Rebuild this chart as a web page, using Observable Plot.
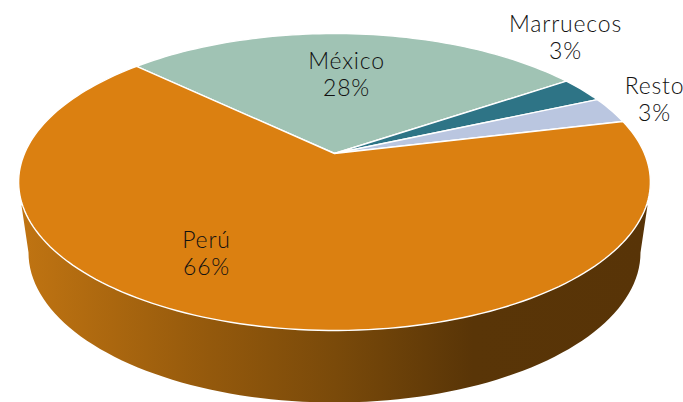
<!DOCTYPE html>
<html>
<head>
<meta charset="utf-8">
<script src="https://cdn.jsdelivr.net/npm/d3@7"></script>
<script src="https://cdn.jsdelivr.net/npm/@observablehq/plot@0.6"></script>
<style>html,body{margin:0;padding:0;background:#fff}svg{display:block}</style>
</head>
<body>
<div id="chart"></div>
<script>
// Data
const categories = ["México", "Marruecos", "Resto", "Perú"];
const shares = [28.4, 2.8, 2.9, 65.9];
const percentLabels = ["28%", "3%", "3%", "66%"];
const sliceColors = ["#A0C3B4", "#2E7486", "#BAC6E0", "#DB8011"];
const labelX = [346, 565, 654, 206];
const labelY = [73, 36, 98, 252];

// View of the tilted disc
const firstSliceStart = -46.3;
const centerX = 334, topY = 153, tilt = 0.192, radiusX = 310, radiusY = 143;
const lowerEllipse = {cx: 334, cy: 252, rx: 306, ry: 150};

const project = (deg) => {
  const t = deg * Math.PI / 180, u = Math.sin(t), v = -Math.cos(t), w = 1 - tilt * v;
  return {x: centerX + radiusX * u / w, y: topY + radiusY * v / w};
};

// Slices built from shares
const slicePoints = [];
let start = firstSliceStart;
const total = d3.sum(shares);
categories.forEach((name, i) => {
  const end = start + shares[i] / total * 360;
  slicePoints.push({name, x: centerX, y: topY});
  const steps = Math.max(2, Math.ceil((end - start) / 1.5));
  for (let k = 0; k <= steps; k++) {
    slicePoints.push({name, ...project(start + (end - start) * k / steps)});
  }
  slicePoints.push({name, x: centerX, y: topY});
  start = end;
});

// Side wall: upper rim corners, then lower rim through the front
const sidePoints = [];
sidePoints.push({x: 21, y: 205});
for (let a = 180; a >= 0; a -= 2) {
  const t = a * Math.PI / 180;
  sidePoints.push({x: lowerEllipse.cx + lowerEllipse.rx * Math.cos(t), y: lowerEllipse.cy + lowerEllipse.ry * Math.sin(t)});
}
sidePoints.push({x: 647, y: 205});

const gradientStops = [[0.0, "#C07412"], [0.3, "#94590C"], [0.5, "#7A4A0A"], [0.72, "#593507"], [1, "#583407"]];
const gradient = () => {
  const g = d3.create("svg:defs");
  const lg = g.append("linearGradient").attr("id", "sideShade").attr("gradientUnits", "userSpaceOnUse")
    .attr("x1", 20).attr("x2", 648).attr("y1", 0).attr("y2", 0);
  gradientStops.forEach(([o, c]) => lg.append("stop").attr("offset", o).attr("stop-color", c));
  return g.node();
};

const labels = categories.map((name, i) => ({text: name + "\n" + percentLabels[i], x: labelX[i], y: labelY[i]}));

const chart = Plot.plot({
  width: 683,
  height: 402,
  margin: 0,
  style: {background: "#fff", overflow: "hidden"},
  x: {domain: [0, 683], range: [0, 683], axis: null},
  y: {domain: [0, 402], range: [0, 402], axis: null},
  color: {domain: categories, range: sliceColors},
  marks: [
    gradient,
    Plot.line(sidePoints, {x: "x", y: "y", fill: "url(#sideShade)", stroke: "none"}),
    Plot.line(slicePoints, {x: "x", y: "y", z: "name", fill: "name", stroke: "#fff", strokeWidth: 1.4, strokeLinejoin: "round"}),
    Plot.text(labels, {x: "x", y: "y", text: "text", fontSize: 23, lineHeight: 1.2, fill: "#111", fontFamily: "Lato", fontWeight: 300, style: "letter-spacing:0.8px"})
  ]
});
chart.querySelectorAll("text").forEach(t => t.style.letterSpacing = "0.8px");
document.getElementById("chart").append(chart);
</script>
</body>
</html>
